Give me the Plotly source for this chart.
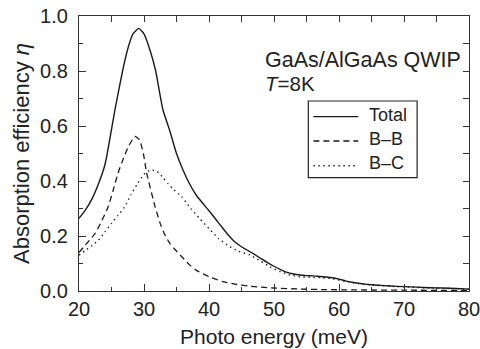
import plotly.graph_objects as go

# Photon energy grid (meV) and absorption efficiency for each channel
energy_total = [20, 21, 22, 23, 24, 24.5, 25.5, 26.7, 27.5, 28.3, 29.2, 30, 31, 31.8, 32.9,
                34, 35, 36, 37, 38, 39, 40, 41, 42, 43, 44, 45, 46, 47, 48, 49, 50, 51, 52,
                53, 54, 55, 56, 57, 58, 59, 60, 61, 62, 63, 64, 66, 68, 70, 72, 74, 76, 78, 80]
eta_total = [0.264, 0.295, 0.335, 0.39, 0.46, 0.52, 0.655, 0.80, 0.88, 0.935, 0.955, 0.935,
             0.87, 0.80, 0.66, 0.58, 0.50, 0.44, 0.39, 0.35, 0.32, 0.292, 0.262, 0.232,
             0.203, 0.178, 0.161, 0.147, 0.133, 0.118, 0.103, 0.09, 0.078, 0.068, 0.062,
             0.058, 0.056, 0.055, 0.053, 0.051, 0.048, 0.043, 0.037, 0.032, 0.028, 0.025,
             0.021, 0.018, 0.016, 0.014, 0.012, 0.011, 0.009, 0.007]

energy_bb = [20, 21, 22, 22.5, 23.5, 24.5, 25.3, 26, 26.8, 27.6, 28.6, 29.3, 29.9, 30.4,
             31.7, 32.5, 33.2, 34, 34.8, 36, 37, 38, 40, 42, 44, 46, 48, 50, 54, 58, 62, 70, 80]
eta_bb = [0.14, 0.168, 0.195, 0.21, 0.255, 0.307, 0.37, 0.428, 0.48, 0.525, 0.562, 0.55,
          0.50, 0.43, 0.307, 0.245, 0.205, 0.172, 0.15, 0.12, 0.095, 0.076, 0.052, 0.035,
          0.025, 0.018, 0.014, 0.011, 0.007, 0.005, 0.004, 0.003, 0.002]

energy_bc = [20, 21, 22, 23, 24, 25, 26, 27, 28, 29, 30, 31, 32, 33, 33.7, 34.5, 35.8, 37.2,
             38.5, 40.2, 41.5, 43.2, 44.5, 46.3, 48, 49.4, 51, 52.5, 54, 55.5, 57.5, 59, 61,
             63, 65, 68, 71, 74, 77, 80]
eta_bc = [0.13, 0.148, 0.165, 0.185, 0.215, 0.246, 0.275, 0.305, 0.35, 0.39, 0.425, 0.44,
          0.435, 0.41, 0.39, 0.37, 0.343, 0.30, 0.265, 0.222, 0.19, 0.161, 0.145, 0.131,
          0.108, 0.088, 0.07, 0.058, 0.052, 0.05, 0.048, 0.045, 0.035, 0.027, 0.022, 0.017,
          0.014, 0.011, 0.009, 0.007]

series_names = ["Total", "B\u2013B", "B\u2013C"]
x_ticks = [20, 30, 40, 50, 60, 70, 80]
y_ticks = [0.0, 0.2, 0.4, 0.6, 0.8, 1.0]
y_tick_labels = ["0.0", "0.2", "0.4", "0.6", "0.8", "1.0"]

FONT = "Liberation Sans, Arial, sans-serif"
INK = "#1a1a1a"
AXIS = "#333333"
TEXT = "#222222"

styles = [
    dict(color=INK, width=1.4),
    dict(color=INK, width=1.3, dash="6px,4px"),
    dict(color=INK, width=1.4, dash="1.4px,3.6px"),
]

fig = go.Figure()
for xs, ys, name, st in zip([energy_total, energy_bb, energy_bc],
                            [eta_total, eta_bb, eta_bc], series_names, styles):
    fig.add_trace(go.Scatter(x=xs, y=ys, name=name, mode="lines", showlegend=False,
                             line=dict(shape="spline", smoothing=0.5, **st)))

# carrier for the mirrored top/right axes
fig.add_trace(go.Scatter(x=[None], y=[None], xaxis="x2", yaxis="y2",
                         showlegend=False, hoverinfo="skip"))

axis_common = dict(showline=True, linecolor=AXIS, linewidth=1.3, showgrid=False, zeroline=False,
                   ticks="inside", tickcolor=AXIS, tickwidth=1.2, ticklen=7, automargin=False,
                   tickfont=dict(family=FONT, size=20, color=TEXT))
mirror_common = dict(showline=True, linecolor=AXIS, linewidth=1.3, ticks="inside", ticklen=6,
                     tickcolor=AXIS, tickwidth=1.2, showticklabels=False, showgrid=False,
                     zeroline=False, automargin=False)

# legend frame, line samples and labels in plot-area fractions
LEG_BOX = (0.588, 0.412, 0.867, 0.691)
LEG_X0, LEG_X1, LEG_TX = 0.601, 0.716, 0.738
LEG_LINE_Y = [0.634, 0.5455, 0.4556]
LEG_TEXT_Y = [0.640, 0.553, 0.464]

shapes = [dict(type="rect", xref="paper", yref="paper", x0=LEG_BOX[0], y0=LEG_BOX[1],
               x1=LEG_BOX[2], y1=LEG_BOX[3], line=dict(color=TEXT, width=1.2),
               fillcolor="white", layer="above")]
annotations = []
for st, ly, ty, name in zip(styles, LEG_LINE_Y, LEG_TEXT_Y, series_names):
    shapes.append(dict(type="line", xref="paper", yref="paper", x0=LEG_X0, x1=LEG_X1,
                       y0=ly, y1=ly, line=st, layer="above"))
    annotations.append(dict(text=name, xref="paper", yref="paper", x=LEG_TX, y=ty,
                            xanchor="left", yanchor="middle", showarrow=False,
                            font=dict(family=FONT, size=18, color=TEXT)))

annotations += [
    dict(text="GaAs/AlGaAs QWIP", xref="paper", yref="paper", x=0.472, y=0.840,
         xanchor="left", yanchor="middle", showarrow=False,
         font=dict(family=FONT, size=21.5, color=TEXT)),
    dict(text="<i>T</i>=8K", xref="paper", yref="paper", x=0.472, y=0.753,
         xanchor="left", yanchor="middle", showarrow=False,
         font=dict(family=FONT, size=20.5, color=TEXT)),
]

fig.update_layout(
    width=480, height=349,
    margin=dict(l=79, r=11, t=16, b=58, autoexpand=False),
    paper_bgcolor="white", plot_bgcolor="white",
    font=dict(family=FONT, color=TEXT),
    showlegend=False,
    xaxis=dict(range=[20, 80], tickvals=x_ticks, ticktext=[str(v) for v in x_ticks],
               minor=dict(ticks="inside", dtick=5, ticklen=4, tickcolor=AXIS, tickwidth=1.2),
               title=dict(text="Photo energy (meV)", font=dict(family=FONT, size=21, color=TEXT),
                          standoff=10),
               ticklabelstandoff=0, ticklabeloverflow="allow", **axis_common),
    yaxis=dict(range=[0, 1.0], tickvals=y_ticks, ticktext=y_tick_labels,
               minor=dict(ticks="inside", dtick=0.1, ticklen=4, tickcolor=AXIS, tickwidth=1.2),
               title=dict(text="Absorption efficiency <i>\u03b7</i>",
                          font=dict(family=FONT, size=22, color=TEXT), standoff=4),
               ticklabelstandoff=6, ticklabeloverflow="allow", **axis_common),
    xaxis2=dict(range=[20, 80], overlaying="x", side="top", anchor="y2", dtick=5,
                **mirror_common),
    yaxis2=dict(range=[0, 1.0], overlaying="y", side="right", anchor="x2", dtick=0.1,
                **mirror_common),
    shapes=shapes,
    annotations=annotations,
)

fig.write_html("out.html")
